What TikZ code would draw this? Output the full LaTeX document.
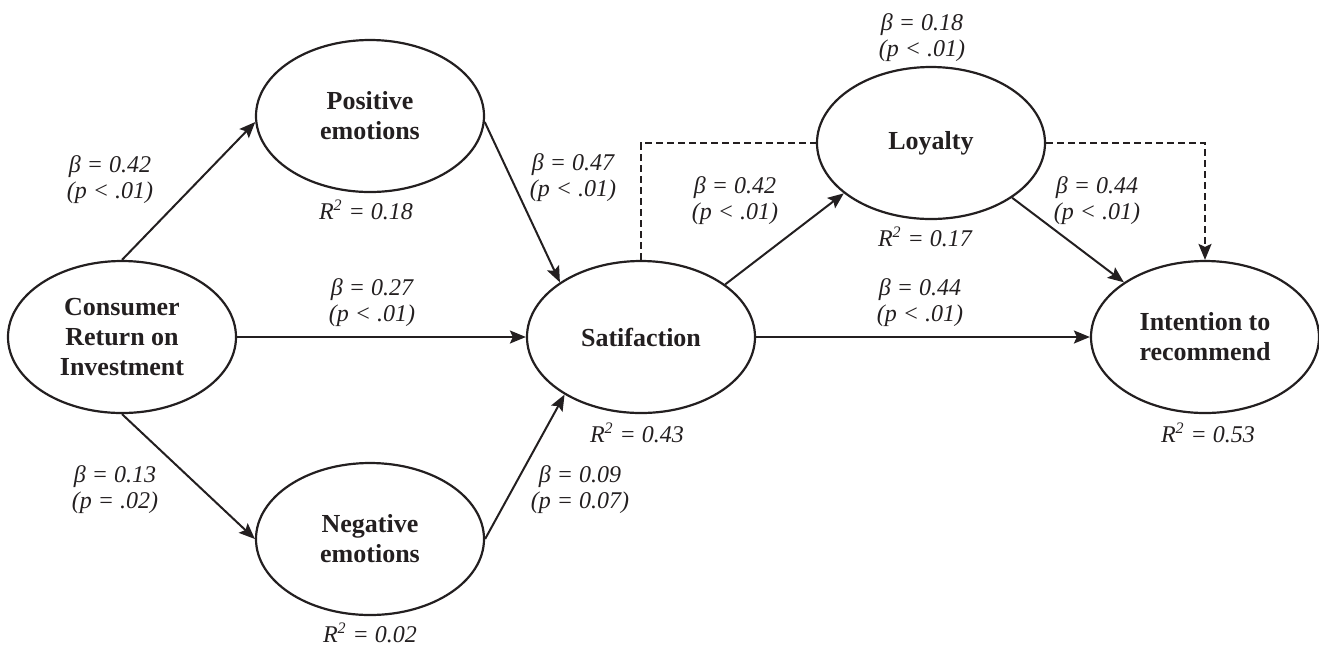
\documentclass[tikz,border=0pt]{standalone}
\usepackage{fontspec}
\setmainfont{Liberation Serif}
\usetikzlibrary{shapes.geometric,arrows.meta}
\definecolor{ink}{HTML}{231F20}

\begin{document}
\begin{tikzpicture}[x=0.5pt,y=-0.5pt,
		construct/.style={draw=ink,text=ink,line width=1.1pt,ellipse,minimum width=114pt,minimum height=76pt,inner sep=0pt,align=center,font=\fontsize{13}{15}\selectfont\bfseries},
		coef/.style={text=ink,align=center,inner sep=0pt,font=\fontsize{12}{13}\selectfont\itshape},
		effect/.style={draw=ink,line width=1pt,-{Stealth[length=8pt,width=6.5pt,inset=1.5pt]}},
		link/.style={draw=ink,line width=1pt,dash pattern=on 3.5pt off 2pt}]
	\useasboundingbox (0,0) rectangle (1319,645);
	% constructs
	\node [construct] (croi) at (122,337) {Consumer\\Return on\\Investment};
	\node [construct] (pos) at (370,116) {Positive\\emotions};
	\node [construct] (neg) at (370,539) {Negative\\emotions};
	\node [construct] (sat) at (641,337) {Satifaction};
	\node [construct] (loy) at (931,143) {Loyalty};
	\node [construct] (int) at (1205,337) {Intention to\\recommend};
	% paths
	\draw [effect] (croi.north) -- (pos.183);
	\draw [effect] (croi.south) -- (neg.west);
	\draw [effect] (croi.east) -- (sat.west);
	\draw [effect] (pos.-3) -- (sat.146);
	\draw [effect] (neg.east) -- (sat.217);
	\draw [effect] (sat.32) -- (loy.210);
	\draw [effect] (sat.east) -- (int.west);
	\draw [effect] (loy.-34) -- (int.146);
	\draw [link] (sat.north) |- (loy.west);
	\draw [link,-{Stealth[length=8pt,width=6.5pt,inset=1.5pt]}] (loy.east) -| (int.north);
	% coefficients
	\node [coef] (b1) at (110,180) {β = 0.42\\(p < .01)};
	\node [coef] (b2) at (372,303) {β = 0.27\\(p < .01)};
	\node [coef] (b3) at (115,490) {β = 0.13\\(p = .02)};
	\node [coef] (b4) at (573,178) {β = 0.47\\(p < .01)};
	\node [coef] (b5) at (580,490) {β = 0.09\\(p = 0.07)};
	\node [coef] (b6) at (735,201) {β = 0.42\\(p < .01)};
	\node [coef] (b7) at (922,38) {β = 0.18\\(p < .01)};
	\node [coef] (b8) at (1097,201) {β = 0.44\\(p < .01)};
	\node [coef] (b9) at (920,303) {β = 0.44\\(p < .01)};
	% explained variance
	\node [coef] (r1) at (366,210) {R\textsuperscript{2} = 0.18};
	\node [coef] (r2) at (370,633) {R\textsuperscript{2} = 0.02};
	\node [coef] (r3) at (637,433) {R\textsuperscript{2} = 0.43};
	\node [coef] (r4) at (925,237) {R\textsuperscript{2} = 0.17};
	\node [coef] (r5) at (1208,433) {R\textsuperscript{2} = 0.53};
\end{tikzpicture}
\end{document}
